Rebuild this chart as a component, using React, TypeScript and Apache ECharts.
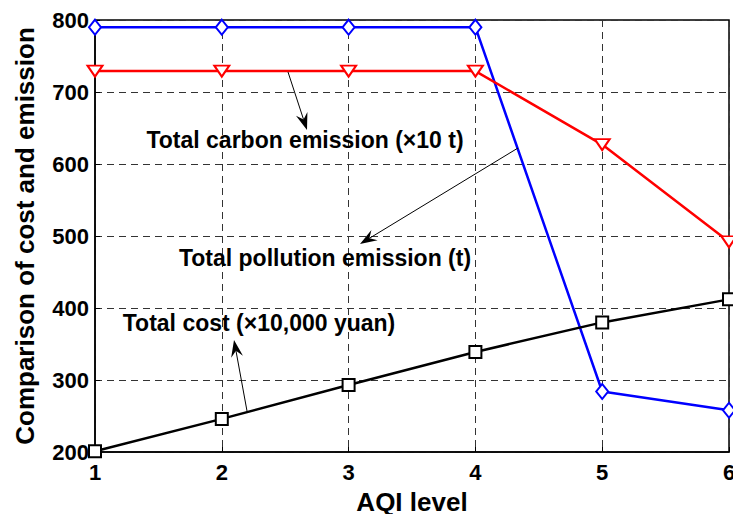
import React, { useEffect, useRef } from "react";
import * as echarts from "echarts";

const aqiLevels = [1, 2, 3, 4, 5, 6];
const pollutionEmission = [790, 790, 790, 790, 284, 258];
const carbonEmission = [729, 729, 729, 729, 627, 492];
const totalCost = [201, 246, 293, 339, 380, 412];
const yTicks = [200, 300, 400, 500, 600, 700, 800];

const FONT = "Liberation Sans, Arial, sans-serif";

function arrow(x1: number, y1: number, x2: number, y2: number) {
  const dx = x2 - x1;
  const dy = y2 - y1;
  const len = Math.sqrt(dx * dx + dy * dy);
  const ux = dx / len;
  const uy = dy / len;
  const px = -uy;
  const py = ux;
  const L = 17;
  const W = 6;
  const back = 11;
  const bx = x2 - ux * L;
  const by = y2 - uy * L;
  const mx = x2 - ux * back;
  const my = y2 - uy * back;
  return [
    { type: "line", shape: { x1, y1, x2: mx, y2: my }, style: { stroke: "#000", lineWidth: 1 }, z: 100 },
    {
      type: "polygon",
      shape: {
        points: [
          [x2, y2],
          [bx + px * W, by + py * W],
          [mx, my],
          [bx - px * W, by - py * W],
        ],
      },
      style: { fill: "#000" },
      z: 100,
    },
  ];
}

function label(text: string, x: number, y: number) {
  return {
    type: "text",
    x,
    y,
    z: 100,
    style: {
      text,
      fill: "#000",
      font: `bold 23px ${FONT}`,
      textAlign: "center",
      textVerticalAlign: "middle",
    },
  };
}

export default function App() {
  const ref = useRef<HTMLDivElement>(null);
  useEffect(() => {
    document.body.style.margin = "0";
    const chart = echarts.init(ref.current!, undefined, { renderer: "svg" });
    const mk = (data: number[]) => data.map((v, i) => [aqiLevels[i], v]);
    const gridLine = { show: true, lineStyle: { color: "#333", type: [7, 5], width: 1 } };
    chart.setOption({
      animation: false,
      backgroundColor: "#fff",
      grid: {
        left: 95,
        right: 4,
        top: 20,
        bottom: 62,
        outerBoundsMode: "none",
        containLabel: false,
        show: true,
        borderColor: "#000",
        borderWidth: 1.5,
        backgroundColor: "transparent",
      },
      xAxis: {
        type: "value",
        min: 1,
        max: 6,
        interval: 1,
        name: "AQI level",
        nameLocation: "middle",
        nameGap: 33,
        nameTextStyle: { fontFamily: FONT, fontWeight: "bold", fontSize: 26, color: "#000", lineHeight: 28 },
        axisLine: { show: true, lineStyle: { color: "#000", width: 1.5 } },
        axisTick: { show: true, inside: true, length: 5, lineStyle: { color: "#000" } },
        axisLabel: { fontFamily: FONT, fontWeight: "bold", fontSize: 22, color: "#000", margin: 9 },
        splitLine: gridLine,
      },
      yAxis: {
        type: "value",
        min: yTicks[0],
        max: yTicks[yTicks.length - 1],
        interval: 100,
        name: "Comparison of cost and emission",
        nameLocation: "middle",
        nameGap: 57,
        nameTextStyle: { fontFamily: FONT, fontWeight: "bold", fontSize: 26, color: "#000" },
        axisLine: { show: true, lineStyle: { color: "#000", width: 1.5 } },
        axisTick: { show: true, inside: true, length: 5, lineStyle: { color: "#000" } },
        axisLabel: { fontFamily: FONT, fontWeight: "bold", fontSize: 22, color: "#000", margin: 6 },
        splitLine: gridLine,
      },
      series: [
        {
          type: "line",
          data: mk(pollutionEmission),
          symbol: "diamond",
          symbolSize: [12, 15],
          lineStyle: { color: "#0000ff", width: 2.5 },
          itemStyle: { color: "#fff", borderColor: "#0000ff", borderWidth: 2 },
          z: 3,
        },
        {
          type: "line",
          data: mk(carbonEmission),
          symbol: "triangle",
          symbolRotate: 180,
          symbolSize: [15, 11],
          lineStyle: { color: "#ff0000", width: 2.5 },
          itemStyle: { color: "#fff", borderColor: "#ff0000", borderWidth: 2 },
          z: 3,
        },
        {
          type: "line",
          data: mk(totalCost),
          symbol: "rect",
          symbolSize: 12,
          lineStyle: { color: "#000", width: 2.5 },
          itemStyle: { color: "#fff", borderColor: "#000", borderWidth: 2 },
          z: 3,
        },
      ],
      graphic: [
        ...arrow(288, 72, 307, 130),
        ...arrow(518, 148, 360, 244),
        ...arrow(247, 411, 234, 340),
        label("Total carbon emission (×10 t)", 305, 140),
        label("Total pollution emission (t)", 325, 258),
        label("Total cost (×10,000 yuan)", 259, 323),
      ],
    });
    return () => chart.dispose();
  }, []);
  return <div ref={ref} style={{ position: "fixed", left: 0, top: 0, width: 733, height: 514 }} />;
}
